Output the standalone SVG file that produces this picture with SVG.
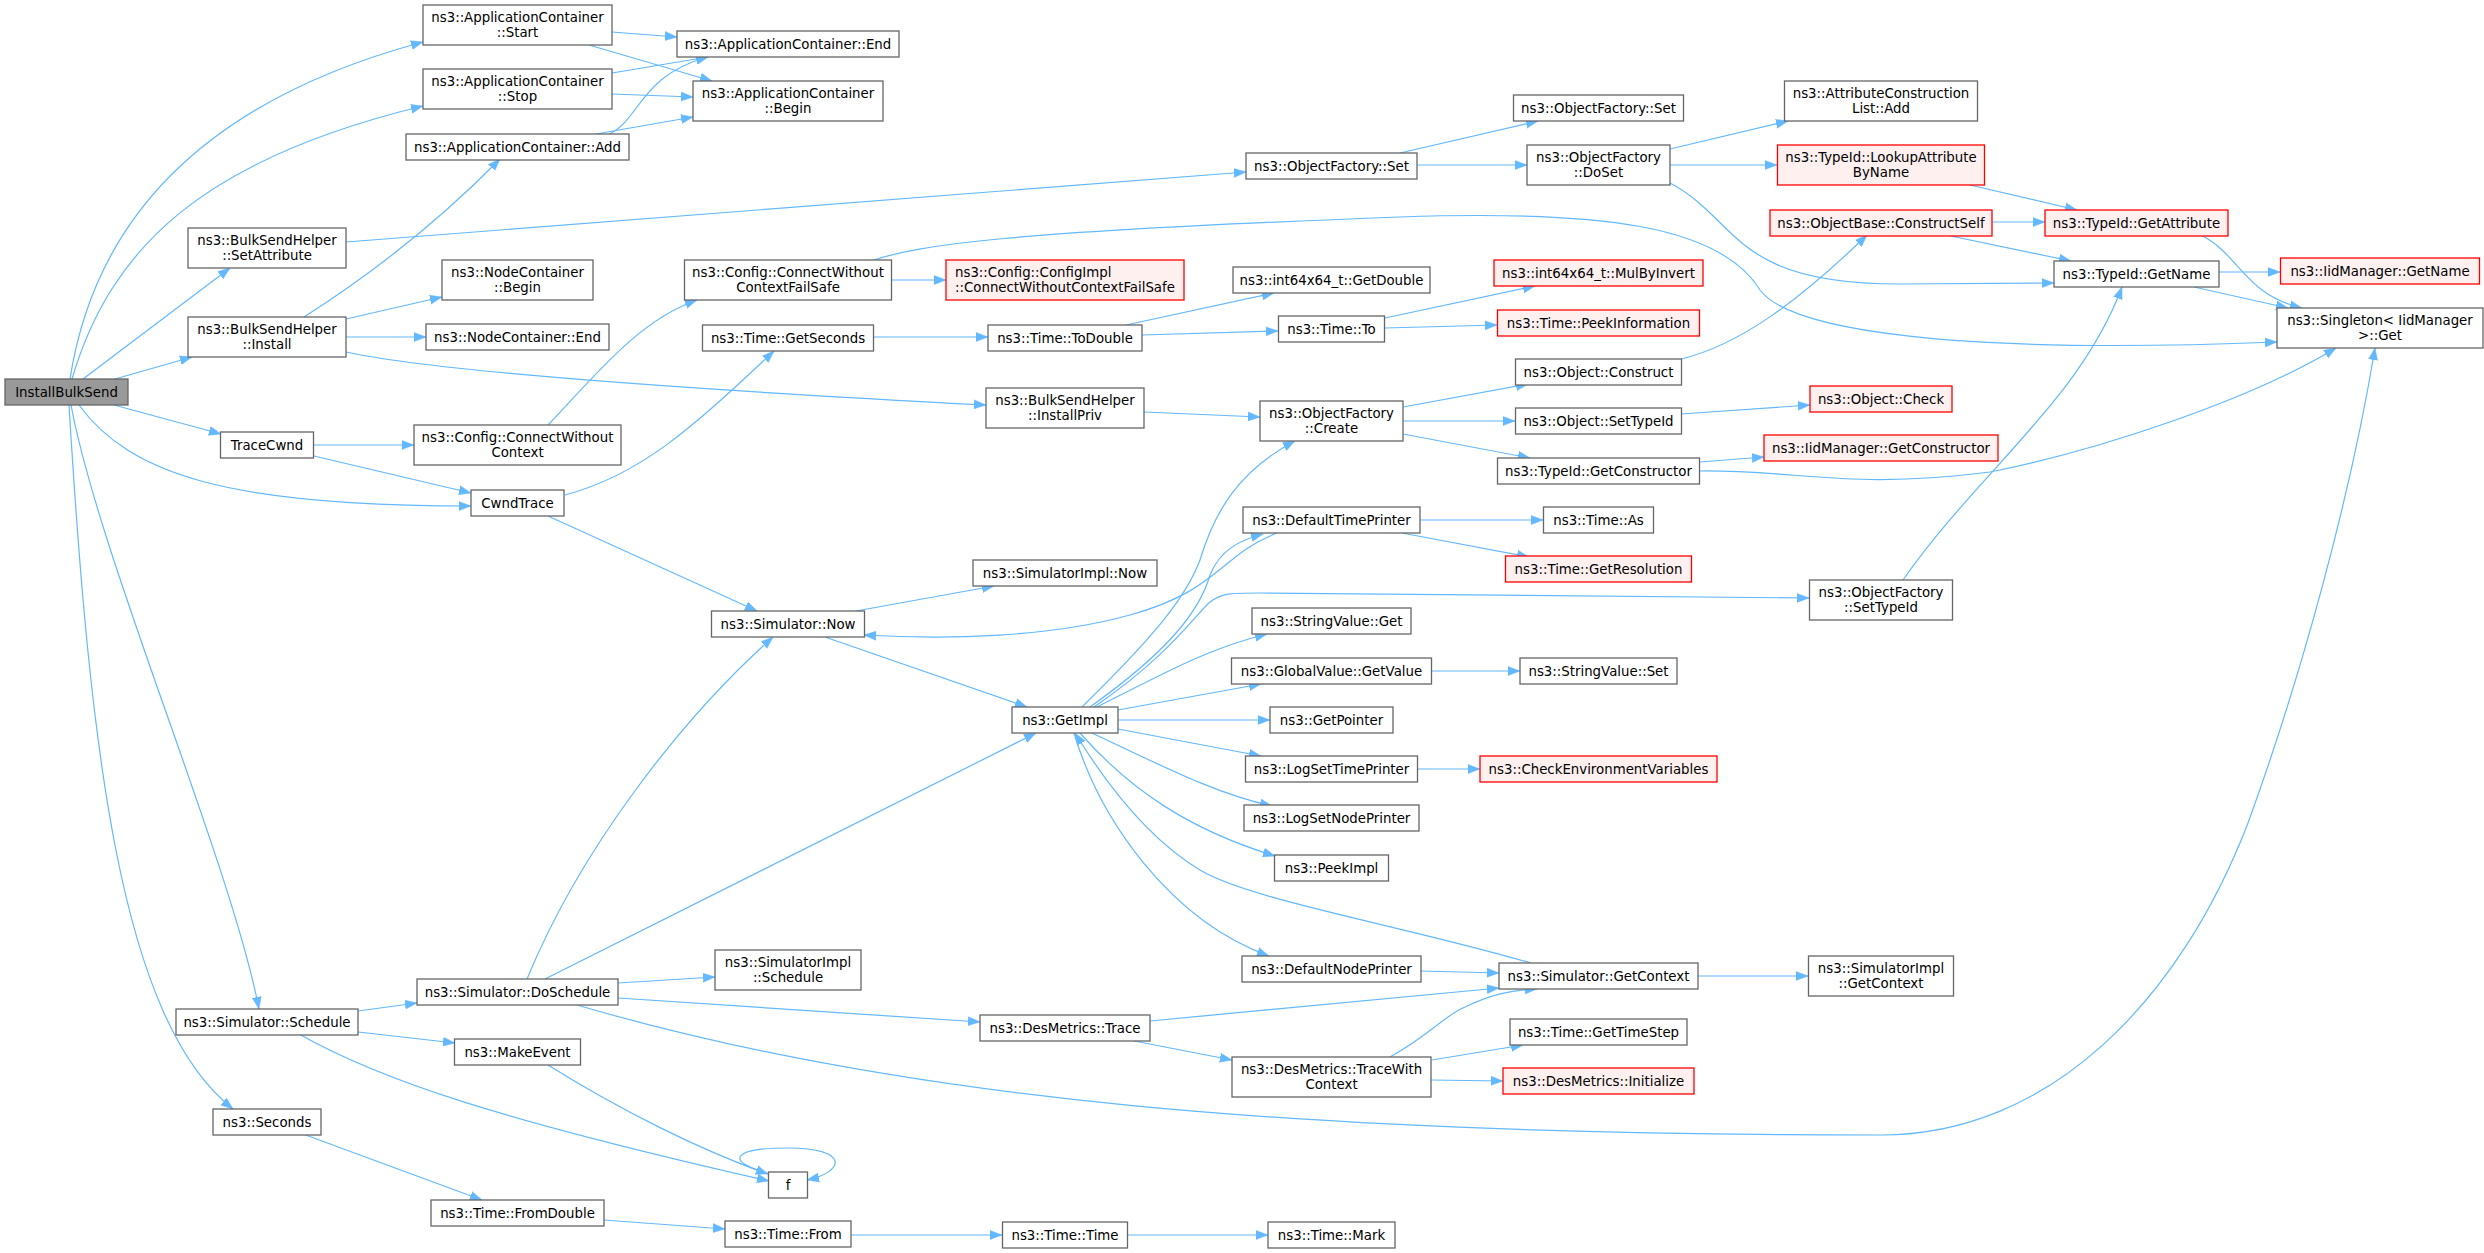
<svg xmlns="http://www.w3.org/2000/svg" width="2484" height="1253" viewBox="0 0 2484 1253">
<style>
.n rect{fill:#ffffff;stroke:#666666;stroke-width:1.3}
.r rect{fill:#fff0f0;stroke:#ff0000;stroke-width:1.3}
.root rect{fill:#999999;stroke:#666666;stroke-width:1.3}
text{font-family:"DejaVu Sans","Liberation Sans",sans-serif;font-size:13.33px;fill:#000000;text-anchor:middle}
text.l{text-anchor:start}
.e path{fill:none;stroke:#63b8ff;stroke-width:1.2;marker-end:url(#ah)}
</style>
<defs>
<marker id="ah" markerUnits="userSpaceOnUse" markerWidth="12" markerHeight="10" viewBox="0 0 12 10" refX="12" refY="5" orient="auto"><path d="M0,0.5 L12,5 L0,9.5 z" fill="#63b8ff" stroke="#63b8ff" stroke-width="0.5"/></marker>
</defs>
<rect x="0" y="0" width="2484" height="1253" fill="#ffffff"/>
<g id="edges" class="e">
<path d="M70,379 C90,250 170,110 423,42"/>
<path d="M72,379 C110,250 200,160 423,106"/>
<path d="M83,379 L230,268"/>
<path d="M115,379 L192,357"/>
<path d="M114,405 L221,434"/>
<path d="M79,405 C130,475 230,506 471,506"/>
<path d="M71,405 C100,560 230,860 259,1009"/>
<path d="M69,405 C90,750 120,1020 233,1109"/>
<path d="M612,32 L677,37"/>
<path d="M589,45 L712,81"/>
<path d="M612,73 L708,57"/>
<path d="M612,94 L693,97"/>
<path d="M609,134 C640,120 640,75 708,57"/>
<path d="M596,134 L693,117"/>
<path d="M346,242 L1246,172"/>
<path d="M304,317 C370,275 440,220 500,159"/>
<path d="M346,319 L442,297"/>
<path d="M346,337 L426,337"/>
<path d="M346,352 C420,368 600,385 986,405"/>
<path d="M314,445 L414,445"/>
<path d="M314,456 L471,493"/>
<path d="M548,425 C600,370 640,320 697,300"/>
<path d="M874,260 C920,245 1000,232 1400,217 C1600,210 1720,225 1760,290 C1790,330 1950,355 2277,342"/>
<path d="M891,280 L946,280"/>
<path d="M565,495 C640,475 690,430 774,351"/>
<path d="M548,516 L757,611"/>
<path d="M873,337 L988,337"/>
<path d="M1126,325 L1274,293"/>
<path d="M1142,335 L1278,331"/>
<path d="M1385,318 L1535,286"/>
<path d="M1385,328 L1497,325"/>
<path d="M1144,412 L1260,417"/>
<path d="M1400,153 L1538,121"/>
<path d="M1417,165 L1527,165"/>
<path d="M1670,149 L1788,121"/>
<path d="M1670,165 L1777,165"/>
<path d="M1670,183 C1740,220 1730,284 1900,284 L2054,283"/>
<path d="M1970,185 L2077,210"/>
<path d="M1992,222 L2045,222"/>
<path d="M1946,235 L2071,261"/>
<path d="M2201,235 C2240,255 2245,295 2302,308"/>
<path d="M2219,272 L2280,272"/>
<path d="M2194,287 L2288,308"/>
<path d="M1403,407 L1528,384"/>
<path d="M1403,421 L1515,421"/>
<path d="M1403,434 L1530,458"/>
<path d="M1681,359 C1740,345 1800,300 1867,235"/>
<path d="M1681,414 L1810,405"/>
<path d="M1700,462 L1764,457"/>
<path d="M1700,471 C1800,470 1850,490 1990,472 C2100,450 2250,400 2336,348"/>
<path d="M856,611 L994,586"/>
<path d="M825,637 L1027,707"/>
<path d="M1277,533 C1220,555 1220,590 1130,615 C1050,637 950,640 864,635"/>
<path d="M1082,707 C1150,640 1185,600 1200,560 C1215,510 1240,470 1295,441"/>
<path d="M1090,707 C1170,650 1200,610 1210,575 C1220,550 1240,540 1263,534"/>
<path d="M1094,707 C1170,655 1195,615 1210,602 C1222,593 1230,593 1260,593 L1809,598"/>
<path d="M1097,707 C1170,670 1210,648 1267,634"/>
<path d="M1118,710 L1261,684"/>
<path d="M1118,720 L1270,720"/>
<path d="M1118,729 L1261,756"/>
<path d="M1092,733 C1170,770 1220,795 1272,806"/>
<path d="M1080,733 C1130,790 1190,830 1275,856"/>
<path d="M1074,733 C1100,820 1170,920 1269,956"/>
<path d="M1531,963 C1400,925 1250,900 1200,870 C1150,840 1110,790 1075,733"/>
<path d="M1421,971 L1499,973"/>
<path d="M1698,976 L1808,976"/>
<path d="M1150,1021 L1499,988"/>
<path d="M1134,1041 L1232,1060"/>
<path d="M1390,1057 C1430,1035 1445,1015 1465,1007 C1490,995 1510,990 1537,989"/>
<path d="M1432,1060 L1523,1045"/>
<path d="M1431,1080 L1503,1081"/>
<path d="M1420,520 L1543,520"/>
<path d="M1402,533 L1529,557"/>
<path d="M1432,671 L1520,671"/>
<path d="M1418,769 L1480,769"/>
<path d="M1903,580 C1980,470 2080,400 2122,287"/>
<path d="M358,1011 L417,1003"/>
<path d="M358,1032 L455,1043"/>
<path d="M299,1034 C380,1080 500,1120 769,1181"/>
<path d="M548,1065 C620,1110 700,1150 768,1174"/>
<path d="M770,1174 C725,1162 730,1148 788,1148 C850,1148 845,1172 807,1180"/>
<path d="M303,1134 L482,1200"/>
<path d="M604,1220 L725,1229"/>
<path d="M851,1235 L1002,1235"/>
<path d="M1128,1235 L1268,1235"/>
<path d="M618,983 L715,977"/>
<path d="M618,998 L980,1022"/>
<path d="M527,979 C580,850 680,720 773,637"/>
<path d="M545,979 L1036,733"/>
<path d="M577,1005 C900,1100 1300,1135 1881,1135 C2050,1135 2180,1000 2248,823 C2300,680 2350,500 2375,348"/>
</g>
<g id="n_installbulksend" class="root"><rect x="5" y="379" width="123" height="26"/><text x="66.5" y="396.5">InstallBulkSend</text></g>
<g id="n_setattribute" class="n"><rect x="188" y="228" width="158" height="40"/><text x="267" y="244.5">ns3::BulkSendHelper</text><text x="267" y="259.5">::SetAttribute</text></g>
<g id="n_install" class="n"><rect x="188" y="317" width="158" height="40"/><text x="267" y="333.5">ns3::BulkSendHelper</text><text x="267" y="348.5">::Install</text></g>
<g id="n_tracecwnd" class="n"><rect x="220.5" y="432" width="93" height="26"/><text x="267" y="449.5">TraceCwnd</text></g>
<g id="n_schedule" class="n"><rect x="176" y="1009" width="182" height="26"/><text x="267" y="1026.5">ns3::Simulator::Schedule</text></g>
<g id="n_seconds" class="n"><rect x="213" y="1109" width="108" height="26"/><text x="267" y="1126.5">ns3::Seconds</text></g>
<g id="n_start" class="n"><rect x="423" y="5" width="189" height="40"/><text x="517.5" y="21.5">ns3::ApplicationContainer</text><text x="517.5" y="36.5">::Start</text></g>
<g id="n_stop" class="n"><rect x="423" y="69" width="189" height="40"/><text x="517.5" y="85.5">ns3::ApplicationContainer</text><text x="517.5" y="100.5">::Stop</text></g>
<g id="n_add" class="n"><rect x="406" y="134" width="223" height="26"/><text x="517.5" y="151.5">ns3::ApplicationContainer::Add</text></g>
<g id="n_ncbegin" class="n"><rect x="442" y="260" width="151" height="40"/><text x="517.5" y="276.5">ns3::NodeContainer</text><text x="517.5" y="291.5">::Begin</text></g>
<g id="n_ncend" class="n"><rect x="426" y="324" width="183" height="26"/><text x="517.5" y="341.5">ns3::NodeContainer::End</text></g>
<g id="n_cwc" class="n"><rect x="414" y="425" width="207" height="40"/><text x="517.5" y="441.5">ns3::Config::ConnectWithout</text><text x="517.5" y="456.5">Context</text></g>
<g id="n_cwndtrace" class="n"><rect x="471" y="490" width="93" height="26"/><text x="517.5" y="507.5">CwndTrace</text></g>
<g id="n_doschedule" class="n"><rect x="417" y="979" width="201" height="26"/><text x="517.5" y="996.5">ns3::Simulator::DoSchedule</text></g>
<g id="n_makeevent" class="n"><rect x="454.5" y="1039" width="126" height="26"/><text x="517.5" y="1056.5">ns3::MakeEvent</text></g>
<g id="n_fromdouble" class="n"><rect x="431" y="1200" width="173" height="26"/><text x="517.5" y="1217.5">ns3::Time::FromDouble</text></g>
<g id="n_acend" class="n"><rect x="677" y="31" width="222" height="26"/><text x="788" y="48.5">ns3::ApplicationContainer::End</text></g>
<g id="n_acbegin" class="n"><rect x="693" y="81" width="190" height="40"/><text x="788" y="97.5">ns3::ApplicationContainer</text><text x="788" y="112.5">::Begin</text></g>
<g id="n_failsafe" class="n"><rect x="684.5" y="260" width="207" height="40"/><text x="788" y="276.5">ns3::Config::ConnectWithout</text><text x="788" y="291.5">ContextFailSafe</text></g>
<g id="n_getseconds" class="n"><rect x="702.5" y="325" width="171" height="26"/><text x="788" y="342.5">ns3::Time::GetSeconds</text></g>
<g id="n_simnow" class="n"><rect x="711.5" y="611" width="153" height="26"/><text x="788" y="628.5">ns3::Simulator::Now</text></g>
<g id="n_simimplschedule" class="n"><rect x="715" y="950" width="146" height="40"/><text x="788" y="966.5">ns3::SimulatorImpl</text><text x="788" y="981.5">::Schedule</text></g>
<g id="n_f" class="n"><rect x="768.5" y="1172" width="39" height="26"/><text x="788" y="1189.5">f</text></g>
<g id="n_timefrom" class="n"><rect x="725" y="1221" width="126" height="26"/><text x="788" y="1238.5">ns3::Time::From</text></g>
<g id="n_configimpl" class="r"><rect x="946" y="260" width="238" height="40"/><text class="l" x="955" y="276.5">ns3::Config::ConfigImpl</text><text class="l" x="955" y="291.5">::ConnectWithoutContextFailSafe</text></g>
<g id="n_todouble" class="n"><rect x="988" y="325" width="154" height="26"/><text x="1065" y="342.5">ns3::Time::ToDouble</text></g>
<g id="n_installpriv" class="n"><rect x="986" y="388" width="158" height="40"/><text x="1065" y="404.5">ns3::BulkSendHelper</text><text x="1065" y="419.5">::InstallPriv</text></g>
<g id="n_simimplnow" class="n"><rect x="973" y="560" width="184" height="26"/><text x="1065" y="577.5">ns3::SimulatorImpl::Now</text></g>
<g id="n_getimpl" class="n"><rect x="1012" y="707" width="106" height="26"/><text x="1065" y="724.5">ns3::GetImpl</text></g>
<g id="n_dmtrace" class="n"><rect x="980" y="1015" width="170" height="26"/><text x="1065" y="1032.5">ns3::DesMetrics::Trace</text></g>
<g id="n_timetime" class="n"><rect x="1002.5" y="1222" width="125" height="26"/><text x="1065" y="1239.5">ns3::Time::Time</text></g>
<g id="n_ofseta" class="n"><rect x="1246" y="153" width="171" height="26"/><text x="1331.5" y="170.5">ns3::ObjectFactory::Set</text></g>
<g id="n_getdouble" class="n"><rect x="1233" y="267" width="197" height="26"/><text x="1331.5" y="284.5">ns3::int64x64_t::GetDouble</text></g>
<g id="n_timeto" class="n"><rect x="1278.5" y="316" width="106" height="26"/><text x="1331.5" y="333.5">ns3::Time::To</text></g>
<g id="n_create" class="n"><rect x="1260" y="401" width="143" height="40"/><text x="1331.5" y="417.5">ns3::ObjectFactory</text><text x="1331.5" y="432.5">::Create</text></g>
<g id="n_dtp" class="n"><rect x="1243" y="507" width="177" height="26"/><text x="1331.5" y="524.5">ns3::DefaultTimePrinter</text></g>
<g id="n_svget" class="n"><rect x="1252" y="608" width="159" height="26"/><text x="1331.5" y="625.5">ns3::StringValue::Get</text></g>
<g id="n_gvgetvalue" class="n"><rect x="1231.5" y="658" width="200" height="26"/><text x="1331.5" y="675.5">ns3::GlobalValue::GetValue</text></g>
<g id="n_getpointer" class="n"><rect x="1270" y="707" width="123" height="26"/><text x="1331.5" y="724.5">ns3::GetPointer</text></g>
<g id="n_lstp" class="n"><rect x="1245.5" y="756" width="172" height="26"/><text x="1331.5" y="773.5">ns3::LogSetTimePrinter</text></g>
<g id="n_lsnp" class="n"><rect x="1244" y="805" width="175" height="26"/><text x="1331.5" y="822.5">ns3::LogSetNodePrinter</text></g>
<g id="n_peekimpl" class="n"><rect x="1274.5" y="855" width="114" height="26"/><text x="1331.5" y="872.5">ns3::PeekImpl</text></g>
<g id="n_dnp" class="n"><rect x="1242" y="956" width="179" height="26"/><text x="1331.5" y="973.5">ns3::DefaultNodePrinter</text></g>
<g id="n_twc" class="n"><rect x="1232" y="1057" width="199" height="40"/><text x="1331.5" y="1073.5">ns3::DesMetrics::TraceWith</text><text x="1331.5" y="1088.5">Context</text></g>
<g id="n_mark" class="n"><rect x="1268" y="1222" width="127" height="26"/><text x="1331.5" y="1239.5">ns3::Time::Mark</text></g>
<g id="n_ofsetb" class="n"><rect x="1513.5" y="95" width="170" height="26"/><text x="1598.5" y="112.5">ns3::ObjectFactory::Set</text></g>
<g id="n_doset" class="n"><rect x="1527" y="145" width="143" height="40"/><text x="1598.5" y="161.5">ns3::ObjectFactory</text><text x="1598.5" y="176.5">::DoSet</text></g>
<g id="n_mulbyinvert" class="r"><rect x="1494" y="260" width="209" height="26"/><text x="1598.5" y="277.5">ns3::int64x64_t::MulByInvert</text></g>
<g id="n_peekinformation" class="r"><rect x="1497.5" y="310" width="202" height="26"/><text x="1598.5" y="327.5">ns3::Time::PeekInformation</text></g>
<g id="n_objconstruct" class="n"><rect x="1515.5" y="359" width="166" height="26"/><text x="1598.5" y="376.5">ns3::Object::Construct</text></g>
<g id="n_objsettypeid" class="n"><rect x="1515.5" y="408" width="166" height="26"/><text x="1598.5" y="425.5">ns3::Object::SetTypeId</text></g>
<g id="n_getconstructor" class="n"><rect x="1497.5" y="458" width="202" height="26"/><text x="1598.5" y="475.5">ns3::TypeId::GetConstructor</text></g>
<g id="n_timeas" class="n"><rect x="1543.5" y="507" width="110" height="26"/><text x="1598.5" y="524.5">ns3::Time::As</text></g>
<g id="n_getresolution" class="r"><rect x="1505.5" y="556" width="186" height="26"/><text x="1598.5" y="573.5">ns3::Time::GetResolution</text></g>
<g id="n_svset" class="n"><rect x="1520" y="658" width="157" height="26"/><text x="1598.5" y="675.5">ns3::StringValue::Set</text></g>
<g id="n_checkenv" class="r"><rect x="1480" y="756" width="237" height="26"/><text x="1598.5" y="773.5">ns3::CheckEnvironmentVariables</text></g>
<g id="n_getcontext" class="n"><rect x="1499" y="963" width="199" height="26"/><text x="1598.5" y="980.5">ns3::Simulator::GetContext</text></g>
<g id="n_gettimestep" class="n"><rect x="1510" y="1019" width="177" height="26"/><text x="1598.5" y="1036.5">ns3::Time::GetTimeStep</text></g>
<g id="n_dminit" class="r"><rect x="1503" y="1068" width="191" height="26"/><text x="1598.5" y="1085.5">ns3::DesMetrics::Initialize</text></g>
<g id="n_acladd" class="n"><rect x="1784.5" y="81" width="193" height="40"/><text x="1881" y="97.5">ns3::AttributeConstruction</text><text x="1881" y="112.5">List::Add</text></g>
<g id="n_lookupattr" class="r"><rect x="1777.5" y="145" width="207" height="40"/><text x="1881" y="161.5">ns3::TypeId::LookupAttribute</text><text x="1881" y="176.5">ByName</text></g>
<g id="n_constructself" class="r"><rect x="1770" y="210" width="222" height="26"/><text x="1881" y="227.5">ns3::ObjectBase::ConstructSelf</text></g>
<g id="n_objcheck" class="r"><rect x="1810" y="386" width="142" height="26"/><text x="1881" y="403.5">ns3::Object::Check</text></g>
<g id="n_iidgetconstructor" class="r"><rect x="1764" y="435" width="234" height="26"/><text x="1881" y="452.5">ns3::IidManager::GetConstructor</text></g>
<g id="n_ofsettypeid" class="n"><rect x="1809.5" y="580" width="143" height="40"/><text x="1881" y="596.5">ns3::ObjectFactory</text><text x="1881" y="611.5">::SetTypeId</text></g>
<g id="n_simimplgetcontext" class="n"><rect x="1808.5" y="956" width="145" height="40"/><text x="1881" y="972.5">ns3::SimulatorImpl</text><text x="1881" y="987.5">::GetContext</text></g>
<g id="n_getattribute" class="r"><rect x="2045" y="210" width="183" height="26"/><text x="2136.5" y="227.5">ns3::TypeId::GetAttribute</text></g>
<g id="n_getname" class="n"><rect x="2054" y="261" width="165" height="26"/><text x="2136.5" y="278.5">ns3::TypeId::GetName</text></g>
<g id="n_iidgetname" class="r"><rect x="2280.5" y="258" width="199" height="26"/><text x="2380" y="275.5">ns3::IidManager::GetName</text></g>
<g id="n_singleton" class="n"><rect x="2277" y="308" width="206" height="40"/><text x="2380" y="324.5">ns3::Singleton&lt; IidManager</text><text x="2380" y="339.5">&gt;::Get</text></g>
</svg>
